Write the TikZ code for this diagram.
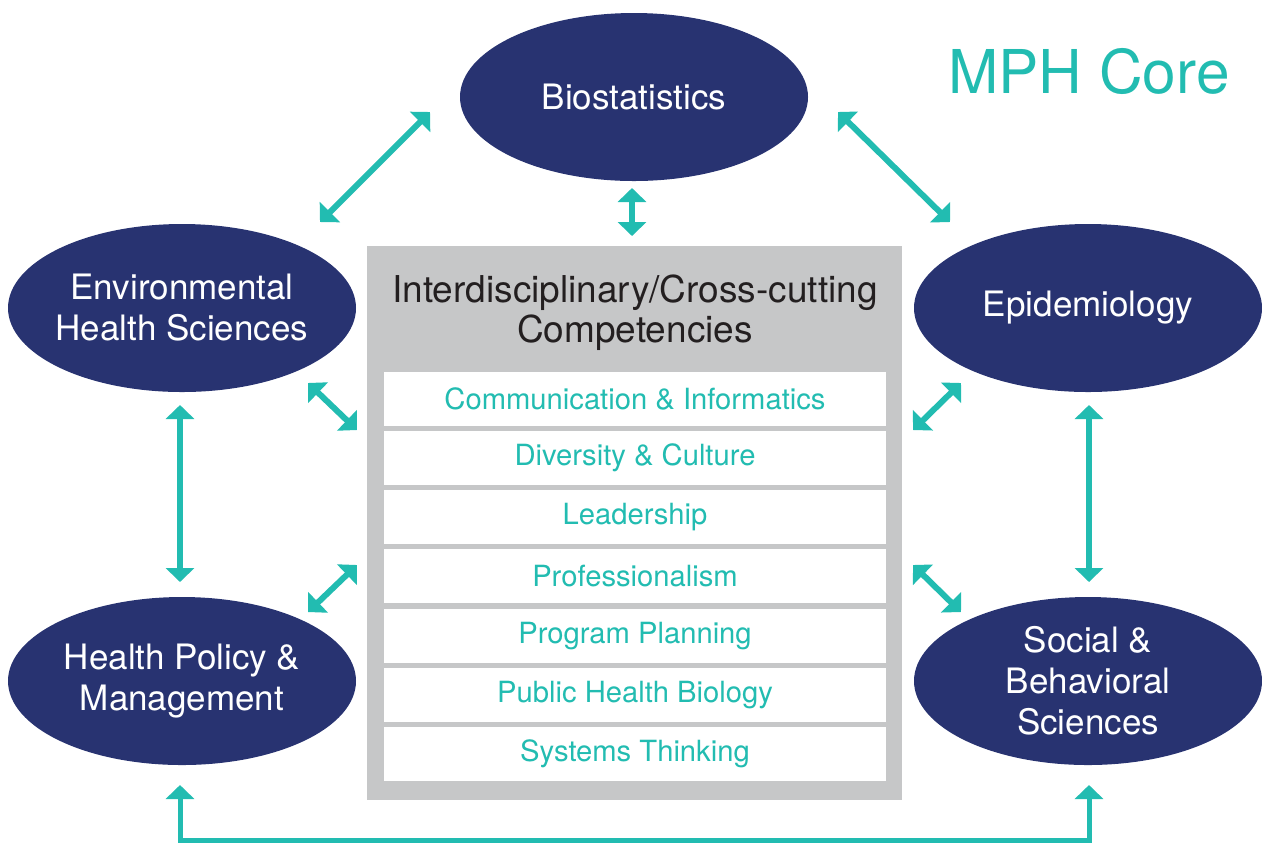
\documentclass[tikz,border=0pt]{standalone}
\usepackage{fontspec}
\setmainfont{TeX Gyre Heros}
\usepackage{tikz}
\usetikzlibrary{shapes.geometric}
\usetikzlibrary{arrows.meta}

\definecolor{navy}{HTML}{283371}
\definecolor{mphteal}{HTML}{22BCB1}
\definecolor{boxgray}{HTML}{C6C7C8}
\definecolor{darktext}{HTML}{231F20}

\tikzset{
  area/.style={ellipse, fill=navy, text=white, inner xsep=-6pt, inner ysep=-3pt,
    minimum width=174pt, minimum height=84pt, align=center,
    font=\fontsize{17.5}{20.5}\selectfont},
  skill/.style={fill=white, text=mphteal, inner sep=0pt,
    minimum width=251pt, minimum height=27pt,
    font=\fontsize{14.6}{17}\selectfont},
  link/.style={mphteal, line width=3pt,
    {Triangle[width=14pt,length=7pt]}-{Triangle[width=14pt,length=7pt]}}
}

\begin{document}
\begin{tikzpicture}[x=0.5pt, y=-0.5pt]
      \useasboundingbox (0,0) rectangle (1262,843);

      % title
      \node[text=mphteal, font=\fontsize{30.2}{34}\selectfont] (title) at (1089,71) {MPH Core};

      % the five core areas
      \node[area] (bio) at (634,97) {Biostatistics};
      \node[area] (env) at (182,308) {Environmental\\Health Sciences};
      \node[area] (epi) at (1088,308) {Epidemiology};
      \node[area] (hpm) at (182,681) {Health Policy \&\\Management};
      \node[area] (sbs) at (1088,681) {Social \&\\Behavioral\\Sciences};

      % gray box in the middle
      \node[fill=boxgray, minimum width=267.5pt, minimum height=277pt, inner sep=0pt] (core) at (634.5,523) {};
      \node[text=darktext, align=center, font=\fontsize{18.5}{20}\selectfont] (head) at (635,313)
        {Interdisciplinary/Cross-cutting\\Competencies};

      % competencies
      \node[skill] (c1) at (635,399) {Communication \& Informatics};
      \node[skill] (c2) at (635,458) {Diversity \& Culture};
      \node[skill] (c3) at (635,517) {Leadership};
      \node[skill] (c4) at (635,576) {Professionalism};
      \node[skill] (c5) at (635,636) {Program Planning};
      \node[skill] (c6) at (635,695) {Public Health Biology};
      \node[skill] (c7) at (635,754) {Systems Thinking};

      % arrow ends
      \coordinate (bioB) at (632,188);
      \coordinate (coreT) at (632,236);
      \coordinate (bioL) at (430,112);
      \coordinate (envR) at (320,222);
      \coordinate (bioR) at (838,112);
      \coordinate (epiL) at (950,222);
      \coordinate (envB) at (308,383);
      \coordinate (coreEnv) at (357,430);
      \coordinate (epiB) at (961,383);
      \coordinate (coreEpi) at (913,430);
      \coordinate (hpmT) at (308,612);
      \coordinate (coreHpm) at (357,565);
      \coordinate (sbsT) at (961,612);
      \coordinate (coreSbs) at (913,565);
      \coordinate (envD) at (180,405);
      \coordinate (hpmU) at (180,582);
      \coordinate (epiD) at (1089,405);
      \coordinate (sbsU) at (1089,582);
      \coordinate (hpmD) at (180,785);
      \coordinate (sbsD) at (1089,785);

      % arrows between the areas and the box
      \draw[link] (bioB) -- (coreT);
      \draw[link] (bioL) -- (envR);
      \draw[link] (bioR) -- (epiL);
      \draw[link] (envB) -- (coreEnv);
      \draw[link] (epiB) -- (coreEpi);
      \draw[link] (hpmT) -- (coreHpm);
      \draw[link] (sbsT) -- (coreSbs);
      \draw[link] (envD) -- (hpmU);
      \draw[link] (epiD) -- (sbsU);
      \draw[link, line width=2.5pt] (hpmD) -- (180,840) -- (1089,840) -- (sbsD);
    \end{tikzpicture}
\end{document}
